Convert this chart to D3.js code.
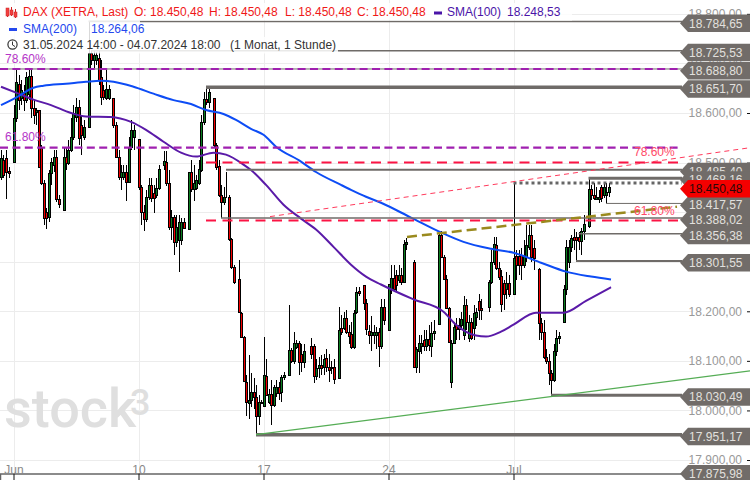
<!DOCTYPE html>
<html><head><meta charset="utf-8">
<style>html,body{margin:0;padding:0;background:#fff}svg{display:block}text{font-family:"Liberation Sans",Arial,sans-serif}</style>
<script src="https://cdn.jsdelivr.net/npm/d3@7/dist/d3.min.js"></script>
</head><body><svg id="c" width="750" height="480"></svg>
<script>
const opens=[18471,18506,18510,18483,18496,18502,18590,18659,18631,18641,18627,18639,18675,18610,18602,18606,18530,18459,18401,18391,18479,18496,18512,18427,18405,18405,18512,18500,18526,18552,18592,18612,18576,18552,18572,18572,18721,18707,18707,18711,18673,18647,18631,18631,18631,18631,18576,18512,18471,18471,18481,18461,18532,18552,18556,
18548,18451,18401,18387,18431,18455,18439,18435,18449,18494,18496,18502,18459,18371,18391,18340,18344,18344,18381,18367,18367,18481,18447,18449,18459,18485,18582,18629,18622,18631,18631,18536,18494,18435,18421,18431,18431,18346,18290,18264,18266,18197,18149,18058,18014,18022,18038,18028,17988,18014,
18008,18070,18016,18034,18010,18036,18048,18038,18068,18066,18072,18121,18099,18127,18137,18113,18097,18121,18129,18129,18129,18070,18086,18091,18088,18105,18088,18086,18088,18066,
18066,18167,18167,18187,18159,18155,18127,18199,18240,18254,18254,18217,18161,18153,18153,18153,18159,18129,18209,18163,
18163,18244,18268,18274,18264,18274,18260,18336,18340,18324,18300,18088,18119,18129,18143,18129,18145,18129,18157,18177,
18175,18354,18310,18266,18207,18058,18137,18173,18173,18173,18153,18213,18147,18179,18167,18189,18221,18207,18205,18209,
18209,18260,18300,18334,18288,18272,18258,18244,18258,18234,
18234,18312,18312,18314,18294,18310,18330,18354,18328,18290,
18286,18177,18159,18107,18099,18076,18062,18119,18147,18161,
18179,18244,18300,18330,18350,18350,18350,18342,18361,18373,
18373,18447,18435,18427,18427,18451,18435,18435,18441,18450.48];
const highs=[18526,18516,18526,18491,18496,18616,18689,18677,18667,18657,18683,18691,18687,18627,18610,18606,18536,18465,18409,18485,18510,18526,18526,18435,18405,18530,18530,18546,18590,18616,18631,18627,18596,18586,18572,18784.65,18725.53,18727,18723,18727,18707,18657,18687,18657,18631,18631,18582,18526,18496,18496,18496,18552,18586,18576,18556,
18548,18455,18415,18445,18469,18469,18455,18469,18496,18494,18524,18524,18485,18405,18395,18395,18395,18389,18389,18367,18481,18506,18496,18475,18506,18596,18643,18649,18651.7,18631,18631,18540,18506,18455,18451,18481,18435,18348,18294,18264,18304,18199,18151,18072,18111,18076,18066,18052,18032,18022,
18149,18103,18044,18062,18052,18062,18058,18072,18078,18066,18213,18125,18159,18143,18141,18133,18133,18121,18129,18147,18133,18103,18107,18111,18113,18123,18113,18099,18103,18066,
18209,18193,18199,18203,18173,18179,18203,18248,18250,18254,18254,18224,18173,18191,18173,18169,18167,18224,18224,18163,
18256,18294,18294,18284,18294,18288,18344,18348,18340,18324,18304,18127,18153,18153,18163,18163,18173,18179,18183,18177,
18359,18361,18314,18274,18209,18143,18179,18187,18187,18199,18230,18224,18193,18187,18213,18207,18234,18224,18205,18209,
18264,18324,18350,18350,18300,18284,18264,18280,18274,18234,
18459,18324,18324,18328,18344,18375,18375,18375,18344,18290,
18288,18187,18183,18123,18113,18082,18133,18163,18159,18161,
18254,18344,18344,18354,18365,18359,18359,18369,18395,18373,
18468.16,18455,18459,18451,18445,18455,18459,18459,18459,18450.48];
const lows=[18465,18469,18427,18469,18496,18502,18582,18606,18616,18604,18620,18627,18590,18578,18576,18489,18455,18375,18367,18381,18455,18481,18421,18409,18405,18403,18485,18496,18522,18546,18582,18536,18516,18546,18572,18572,18697,18691,18697,18657,18616,18627,18627,18627,18631,18570,18510,18465,18445,18465,18423,18459,18526,18526,18556,
18445,18375,18361,18381,18425,18421,18399,18429,18445,18494,18485,18453,18363,18344,18314,18330,18280,18334,18365,18367,18365,18441,18423,18445,18455,18481,18576,18616,18610,18631,18532,18485,18431,18389,18415,18429,18342,18286,18256,18264,18197,18147,18058,17988,17982,18006,18002,17951.17,17970,18014,
18006,18030,18012,17970,18006,18028,18022,18016,18062,18066,18070,18095,18093,18123,18072,18078,18086,18121,18129,18103,18056,18062,18066,18072,18072,18078,18058,18074,18054,18066,
18064,18153,18163,18155,18133,18123,18123,18195,18230,18254,18203,18153,18133,18119,18133,18123,18088,18123,18173,18163,
18163,18234,18240,18240,18258,18254,18258,18324,18340,18324,18088,18076,18076,18113,18119,18119,18119,18107,18143,18177,
18175,18308,18264,18205,18137,18046,18133,18143,18143,18163,18143,18163,18139,18143,18143,18171,18183,18183,18205,18209,
18199,18256,18294,18284,18264,18199,18203,18224,18228,18234,
18232,18264,18274,18264,18288,18300,18324,18300,18284,18290,
18143,18143,18103,18093,18052,18030.49,18058,18109,18133,18161,
18177,18233,18288,18320,18324,18301.55,18324,18314,18344,18373,
18369,18425,18425,18425,18419,18421,18429,18417.57,18431,18450.48];
const closes=[18510,18475,18481,18479,18496,18590,18663,18627,18647,18627,18673,18675,18610,18596,18606,18491,18459,18389,18389,18479,18502,18512,18427,18417,18405,18512,18500,18526,18552,18600,18612,18550,18556,18572,18572,18721,18707,18717,18717,18667,18633,18633,18649,18649,18631,18576,18512,18471,18481,18481,18461,18532,18566,18566,18556,
18451,18401,18387,18431,18455,18429,18429,18449,18487,18494,18504,18459,18371,18391,18340,18371,18381,18381,18369,18367,18481,18447,18459,18465,18487,18582,18629,18622,18643,18631,18536,18491,18435,18421,18431,18431,18346,18290,18260,18264,18199,18149,18060,18016,18022,18038,18028,17988,18018,18018,
18072,18032,18034,18010,18048,18048,18036,18068,18072,18066,18121,18099,18137,18137,18097,18097,18119,18121,18129,18113,18070,18086,18091,18086,18103,18088,18082,18088,18064,18066,
18163,18159,18187,18159,18151,18127,18197,18238,18236,18254,18217,18165,18153,18159,18159,18159,18129,18209,18183,18163,
18256,18268,18244,18254,18274,18260,18336,18340,18340,18324,18088,18123,18137,18137,18129,18145,18131,18157,18161,18177,
18354,18310,18266,18207,18139,18137,18169,18165,18165,18185,18213,18179,18179,18147,18197,18199,18203,18203,18205,18209,
18260,18300,18336,18288,18270,18215,18234,18258,18234,18234,
18308,18294,18294,18294,18314,18334,18354,18310,18308,18290,
18177,18159,18107,18099,18076,18062,18119,18147,18151,18161,
18244,18330,18330,18348,18344,18344,18342,18361,18377,18373,
18447,18435,18429,18431,18431,18429,18451,18441,18451,18450.48];

const smaIndex200=[0,6,13,17,26,34,40,45,53,61,69,76,82,89,94,100,105,110,120,126,136,140,146,152,164,176,185,196,205,216,226,236,244];
const sma200=[18616,18631,18651,18655,18659,18663,18665,18663,18653,18639,18626,18618,18606,18598,18586,18568,18556,18532,18502,18481,18455,18445,18431,18419,18389,18359,18340,18326,18318,18298,18280,18270,18264.06];
const smaIndex100=[0,6,13,20,28,34,44,52,58,65,72,78,85,90,97,100,106,113,120,126,133,140,146,152,165,177,182,190,194,200,205,214,225,234,244];
const sma100=[18653,18641,18627,18616,18600,18593,18592,18582,18566,18542,18520,18512,18520,18516,18496,18485,18455,18415,18387,18365,18330,18294,18270,18254,18224,18199,18173,18151,18149,18159,18173,18197,18197,18221,18248.53];

const yTicks=[17900,18000,18100,18200,18300,18400,18500,18600,18700,18800];
const xTickIndex=[5,55,105,155,205];
const xTickLabels=["Jun","10","17","24","Jul"];

// horizontal price levels: value, first bar, line width
const levelValues=[18784.65,18725.53,18688.80,18651.70,18485.40,18468.16,18417.57,18388.02,18356.38,18301.55,18030.49,17951.17,17875.98];
const levelStart=[35,36,0,82,90,235,242,88,231,230,220,102,0];
const levelWidth=[1.5,1.5,1,3.5,2,3,1,1.5,1.5,2,3,3.5,0];
const lastValue=18450.48;
const resistanceDotted=18459;
const fibPurple=[18688.80,18530];
const fibRed=[18500,18383];
const trendIdx=[[107.6,299.6],[162.4,270.4],[102,299.6]];
const trendVal=[[18391,18530],[18350,18411],[17951.17,18080]];

const svg=d3.select("#c");
const x=d3.scaleLinear().domain([-0.4,299.6]).range([0,750]);
const y=d3.scaleLinear().domain([18600,17900]).range([113,460]);
const de=d3.formatLocale({decimal:",",thousands:".",grouping:[3],currency:["","€"]}).format(",.2f");
const px=v=>Math.round(x(v));
const py=v=>Math.round(y(v));
const rightEdge=682;

// grid
svg.append("g").selectAll("line").data(yTicks).join("line")
 .attr("x1",0).attr("x2",692).attr("y1",d=>py(d)+.5).attr("y2",d=>py(d)+.5).attr("stroke","#ececec");
svg.append("g").selectAll("line").data(xTickIndex).join("line")
 .attr("x1",d=>px(d)+.5).attr("x2",d=>px(d)+.5).attr("y1",0).attr("y2",473).attr("stroke","#ececec");

// watermark
svg.append("text").attr("x",4).attr("y",427).attr("font-size",54).attr("font-weight",500).attr("fill","#dfdfdf").style("font-family","Roboto").text("stock");
svg.append("text").attr("x",130).attr("y",415).attr("font-size",36).attr("font-weight",500).attr("fill","#dfdfdf").style("font-family","Roboto").text("3");

// axes
const yAxis=d3.axisLeft(y).tickValues(yTicks).tickFormat(de).tickSize(3).tickPadding(5);
const yg=svg.append("g").attr("transform","translate(750,0)").call(yAxis);
yg.select(".domain").remove();
yg.selectAll("line").attr("stroke","#111");
yg.selectAll("text").attr("fill","#999").attr("font-size",12).style("font-family",'"Liberation Sans"');
const xAxis=d3.axisBottom(x).tickValues(xTickIndex).tickFormat((d,i)=>xTickLabels[i]).tickSize(7);
const xg=svg.append("g").attr("transform","translate(0,473.5)").call(xAxis);
xg.select(".domain").attr("stroke","#666").attr("stroke-width",1.5);
xg.selectAll("line").attr("stroke","#111");
xg.selectAll("text").attr("y",0).attr("dy","0").attr("fill","#888").attr("font-size",12).style("font-family",'"Liberation Sans"');

// candles
const bars=d3.range(opens.length);
const cg=svg.append("g");
cg.selectAll("line").data(bars).join("line")
 .attr("x1",i=>px(i)+.5).attr("x2",i=>px(i)+.5).attr("y1",i=>py(highs[i])).attr("y2",i=>py(lows[i]))
 .attr("stroke","#000").attr("stroke-width",1);
cg.selectAll("rect").data(bars).join("rect")
 .attr("x",i=>px(i)-.5).attr("width",2)
 .attr("y",i=>py(Math.max(opens[i],closes[i]))+.5)
 .attr("height",i=>Math.abs(py(opens[i])-py(closes[i])))
 .attr("fill",i=>closes[i]>=opens[i]?"#0a7d1f":"#f40000").attr("stroke","#000").attr("stroke-width",1);

// moving averages
const ln=d3.line().curve(d3.curveMonotoneX);
svg.append("path").attr("d",ln(smaIndex100.map((d,i)=>[x(d),y(sma100[i])]))).attr("fill","none").attr("stroke","#5a1aa8").attr("stroke-width",2);
svg.append("path").attr("d",ln(smaIndex200.map((d,i)=>[x(d),y(sma200[i])]))).attr("fill","none").attr("stroke","#0d4cf5").attr("stroke-width",2);

// levels
svg.append("g").selectAll("line").data(levelValues.slice(0,12)).join("line")
 .attr("x1",(d,i)=>x(levelStart[i])).attr("x2",rightEdge)
 .attr("y1",d=>y(d)).attr("y2",d=>y(d))
 .attr("stroke","#6f6b68").attr("stroke-width",(d,i)=>levelWidth[i]);
svg.append("line").attr("x1",x(205)).attr("x2",rightEdge).attr("y1",y(resistanceDotted)).attr("y2",y(resistanceDotted))
 .attr("stroke","#666").attr("stroke-width",3).attr("stroke-dasharray","3 3");
svg.append("g").selectAll("line").data(fibPurple).join("line")
 .attr("x1",0).attr("x2",rightEdge).attr("y1",d=>y(d)).attr("y2",d=>y(d))
 .attr("stroke","#a020b0").attr("stroke-width",2.2).attr("stroke-dasharray","8 4.4");
svg.append("g").selectAll("line").data(fibRed).join("line")
 .attr("x1",x(82)).attr("x2",rightEdge).attr("y1",d=>y(d)).attr("y2",d=>y(d))
 .attr("stroke","#fb1444").attr("stroke-width",2).attr("stroke-dasharray","10 6.5");
const trendStyle=[["#ff3a5c",1,"5 4"],["#9a8a1e",2.5,"10 5"],["#55ad55",1.2,null]];
svg.append("g").selectAll("line").data(trendIdx).join("line")
 .attr("x1",d=>x(d[0])).attr("x2",d=>x(d[1]))
 .attr("y1",(d,i)=>y(trendVal[i][0])).attr("y2",(d,i)=>y(trendVal[i][1]))
 .attr("stroke",(d,i)=>trendStyle[i][0]).attr("stroke-width",(d,i)=>trendStyle[i][1]).attr("stroke-dasharray",(d,i)=>trendStyle[i][2]);

// fib texts
const fibText=[["78.60%",5,63,"#b535c8"],["61.80%",5,141,"#b535c8"],["78.60%",634,156,"#ff4a68"],["61.80%",634,215,"#ff4a68"]];
svg.append("g").selectAll("text").data(fibText).join("text")
 .attr("x",d=>d[1]).attr("y",d=>d[2]).attr("fill",d=>d[3]).attr("font-size",12).text(d=>d[0]);

// price labels
function tag(v,fill,txt){
 const t=y(v),top=t-7,bot=t+10.5,mid=t+1.75;
 const g=svg.append("g");
 g.append("path").attr("d",`M680,${mid}L688,${top}L750,${top}L750,${bot}L688,${bot}Z`).attr("fill",fill);
 g.append("text").attr("x",742.5).attr("y",mid+4.3).attr("text-anchor","end").attr("font-size",12).attr("fill",txt).text(de(v));
}
levelValues.forEach(v=>tag(v,"#716c69","#e2e0de"));
tag(lastValue,"#f40000","#2a0808");

// header
const rows=[[0,3,572,17.5],[0,20.5,140,16.5],[0,37,338,16.5]];
svg.append("g").selectAll("rect").data(rows).join("rect")
 .attr("x",d=>d[0]).attr("y",d=>d[1]).attr("width",d=>d[2]).attr("height",d=>d[3]).attr("fill","#fff").attr("opacity",.85);
const hdr=[["DAX (XETRA, Last)",23,16,"#f01818"],["O: 18.450,48",134,16,"#f01818"],["H: 18.450,48",209,16,"#f01818"],["L: 18.450,48",285,16,"#f01818"],["C: 18.450,48",357,16,"#f01818"],
["SMA(100)",447,16,"#4a14a8"],["18.248,53",507,16,"#4a14a8"],["SMA(200)",23,33,"#2448ee"],["18.264,06",91,33,"#2448ee"],
["31.05.2024 14:00 - 04.07.2024 18:00",23,49,"#333"],["(1 Monat, 1 Stunde)",230,49,"#333"]];
svg.append("g").selectAll("text").data(hdr).join("text")
 .attr("x",d=>d[1]).attr("y",d=>d[2]).attr("fill",d=>d[3]).attr("font-size",12).text(d=>d[0]);
svg.append("rect").attr("x",434).attr("y",11.5).attr("width",8).attr("height",3).attr("fill","#4a14a8");
svg.append("rect").attr("x",9).attr("y",28).attr("width",8).attr("height",3).attr("fill","#2448ee");
// candle icon
const icon=svg.append("g").attr("stroke","#d02020").attr("fill","#f04040");
[[7,12,8,16],[11,8,10,15],[15,10,12,17]].forEach(a=>{
 icon.append("line").attr("x1",a[0]+.5).attr("x2",a[0]+.5).attr("y1",a[1]-1).attr("y2",a[3]+1).attr("stroke-width",1);
 icon.append("rect").attr("x",a[0]-1).attr("y",a[2]).attr("width",3).attr("height",a[3]-a[2]).attr("stroke-width",.5);
});
// clock icon
svg.append("circle").attr("cx",12.5).attr("cy",44.5).attr("r",4.6).attr("fill","none").attr("stroke","#333").attr("stroke-width",1.2);
svg.append("path").attr("d","M12.5,41.5V45L15,46.5").attr("fill","none").attr("stroke","#333").attr("stroke-width",1);
</script></body></html>
